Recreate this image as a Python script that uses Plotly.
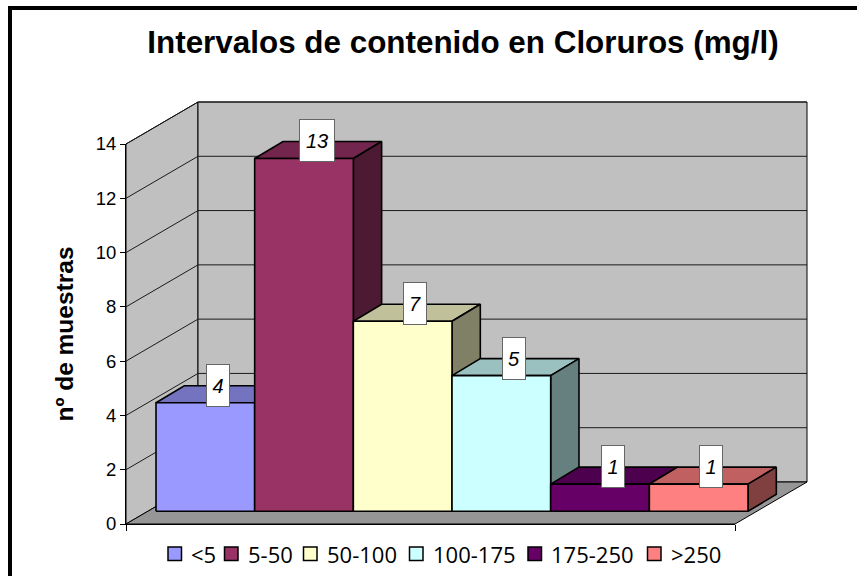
import plotly.graph_objects as go

categories = ["<5", "5-50", "50-100", "100-175", "175-250", ">250"]
values = [4, 13, 7, 5, 1, 1]
front_colors = ["#9999FF", "#993366", "#FFFFCC", "#CCFFFF", "#660066", "#FF8080"]
top_colors = ["#7373C0", "#73264D", "#C0C09A", "#9AC0C0", "#4D004D", "#C06060"]
side_colors = ["#4D4D80", "#4D1A33", "#808066", "#668080", "#330033", "#804040"]
y_ticks = [0, 2, 4, 6, 8, 10, 12, 14]

W, H = 857, 576
L, R, T, B = 126, 735, 144, 524
ML, MR, MT, MB = 20, 837, 60, 546   # margins of the paper area
BAR_PX = 98.67
X0_PX = 156
UNIT_PX = (B - T) / 14
x_range = [(L - X0_PX) / BAR_PX, (R - X0_PX) / BAR_PX]

# wider overlay subplot that holds the projected 3-D geometry
OL, OR, OT, OB = 120, 815, 98, 530
x2_range = [(OL - X0_PX) / BAR_PX, (OR - X0_PX) / BAR_PX]
y2_range = [(B - OB) / UNIT_PX, (B - OT) / UNIT_PX]

# projection offsets in data units
WALL_DX, WALL_DY = 72 / BAR_PX, 42 / UNIT_PX
BAR_DX, BAR_DY = 28.3 / BAR_PX, 17 / UNIT_PX
BASE = 12.7 / UNIT_PX


def px(x):
    return (x - ML) / (MR - ML)


def py(y):
    return (MB - y) / (MB - MT)


fig = go.Figure()
# real axes carry the ticks and labels
fig.add_trace(go.Scatter(x=[None], y=[None], xaxis="x", yaxis="y", showlegend=False, hoverinfo="skip"))


def poly(xs, ys, fill, line="#000000", lw=1.0, name=None):
    fig.add_trace(go.Scatter(
        x=xs + xs[:1], y=ys + ys[:1], mode="lines", fill="toself", fillcolor=fill,
        line=dict(color=line, width=lw), showlegend=False, xaxis="x2", yaxis="y2",
        name=name or "", hoverinfo="skip"))


def seg(xs, ys, color="#1a1a1a", lw=1.0):
    fig.add_trace(go.Scatter(
        x=xs, y=ys, mode="lines", line=dict(color=color, width=lw), xaxis="x2", yaxis="y2",
        showlegend=False, hoverinfo="skip"))


xl, xr = x_range
ytop = y_ticks[-1]
# walls and floor
poly([xl, xl + WALL_DX, xl + WALL_DX, xl], [0, WALL_DY, ytop + WALL_DY, ytop], "#C0C0C0", lw=1)
poly([xl + WALL_DX, xr + WALL_DX, xr + WALL_DX, xl + WALL_DX],
     [WALL_DY, WALL_DY, ytop + WALL_DY, ytop + WALL_DY], "#C0C0C0", lw=1)
poly([xl, xr, xr + WALL_DX, xl + WALL_DX], [0, 0, WALL_DY, WALL_DY], "#969696", lw=1)
# gridlines on both walls
for t in y_ticks[1:]:
    seg([xl, xl + WALL_DX, xr + WALL_DX], [t, t + WALL_DY, t + WALL_DY])

# bars: front, top and side faces projected from the values
for i, (cat, v) in enumerate(zip(categories, values)):
    x0, x1 = i, i + 1
    y0, y1 = BASE, BASE + v
    poly([x0, x1, x1 + BAR_DX, x0 + BAR_DX], [y1, y1, y1 + BAR_DY, y1 + BAR_DY],
         top_colors[i], lw=1.6)
    poly([x1, x1 + BAR_DX, x1 + BAR_DX, x1], [y0, y0 + BAR_DY, y1 + BAR_DY, y1],
         side_colors[i], lw=1.6)
    poly([x0, x1, x1, x0], [y0, y0, y1, y1], front_colors[i], lw=1.6, name=cat)

annotations = []
for i, v in enumerate(values):
    annotations.append(dict(
        x=i + 0.5 + 12.5 / BAR_PX, y=BASE + v + 17.5 / UNIT_PX, xref="x2", yref="y2",
        text=f"<i>{v}</i>", showarrow=False, xanchor="center", yanchor="middle",
        font=dict(family="Liberation Sans", size=20, color="#000000"),
        bgcolor="#FFFFFF", bordercolor="#666666", borderwidth=1, borderpad=0,
        width=34 if v >= 10 else 22, height=41))

# legend row
legend_x = [168, 224.5, 303.5, 409.5, 528, 647.5]
shapes = [dict(type="rect", xref="paper", yref="paper", x0=px(10), x1=px(880), y0=py(8), y1=py(600),
               line=dict(color="#000000", width=4), fillcolor="rgba(0,0,0,0)", layer="above")]
for name, color, lx in zip(categories, front_colors, legend_x):
    shapes.append(dict(type="rect", xref="paper", yref="paper", x0=px(lx), x1=px(lx + 13.5),
                       y0=py(547), y1=py(560.5), fillcolor=color,
                       line=dict(color="#000000", width=1.5)))
    annotations.append(dict(
        x=px(lx + 21), y=py(554), xref="paper", yref="paper", text=name, showarrow=False,
        xanchor="left", yanchor="middle",
        font=dict(family="Open Sans", size=22, color="#000000")))

fig.update_layout(
    width=W, height=H, autosize=False,
    margin=dict(l=ML, r=W - MR, t=MT, b=H - MB, pad=0),
    paper_bgcolor="#FFFFFF", plot_bgcolor="rgba(0,0,0,0)",
    title=dict(text="<b>Intervalos de contenido en Cloruros (mg/l)</b>",
               x=463 / W, xanchor="center", xref="container",
               y=1 - 42 / H, yanchor="middle", yref="container",
               font=dict(family="Liberation Sans", size=31.4, color="#000000")),
    xaxis=dict(domain=[px(L), px(R)], range=x_range, showgrid=False, zeroline=False, showline=True,
               linecolor="#000000", linewidth=1, ticks="outside", ticklen=6, tickwidth=1,
               tickcolor="#000000", tickvals=x_range, showticklabels=False, anchor="y"),
    yaxis=dict(domain=[py(B), py(T)], range=[0, 14], showgrid=False, zeroline=False, showline=True,
               linecolor="#000000", linewidth=1, ticks="outside", ticklen=5, tickwidth=1,
               tickcolor="#000000", anchor="x", tickvals=y_ticks,
               tickfont=dict(family="Liberation Sans", size=18.5, color="#000000"),
               title=dict(text="<b>nº de muestras</b>", standoff=15,
                          font=dict(family="Liberation Sans", size=24.5, color="#000000"))),
    xaxis2=dict(domain=[px(OL), px(OR)], range=x2_range, visible=False, anchor="y2"),
    yaxis2=dict(domain=[py(OB), py(OT)], range=y2_range, visible=False, anchor="x2"),
    shapes=shapes, annotations=annotations, showlegend=False,
)
fig.write_html("out.html", post_script="document.body.style.margin='0';",
               config={"displayModeBar": False})
